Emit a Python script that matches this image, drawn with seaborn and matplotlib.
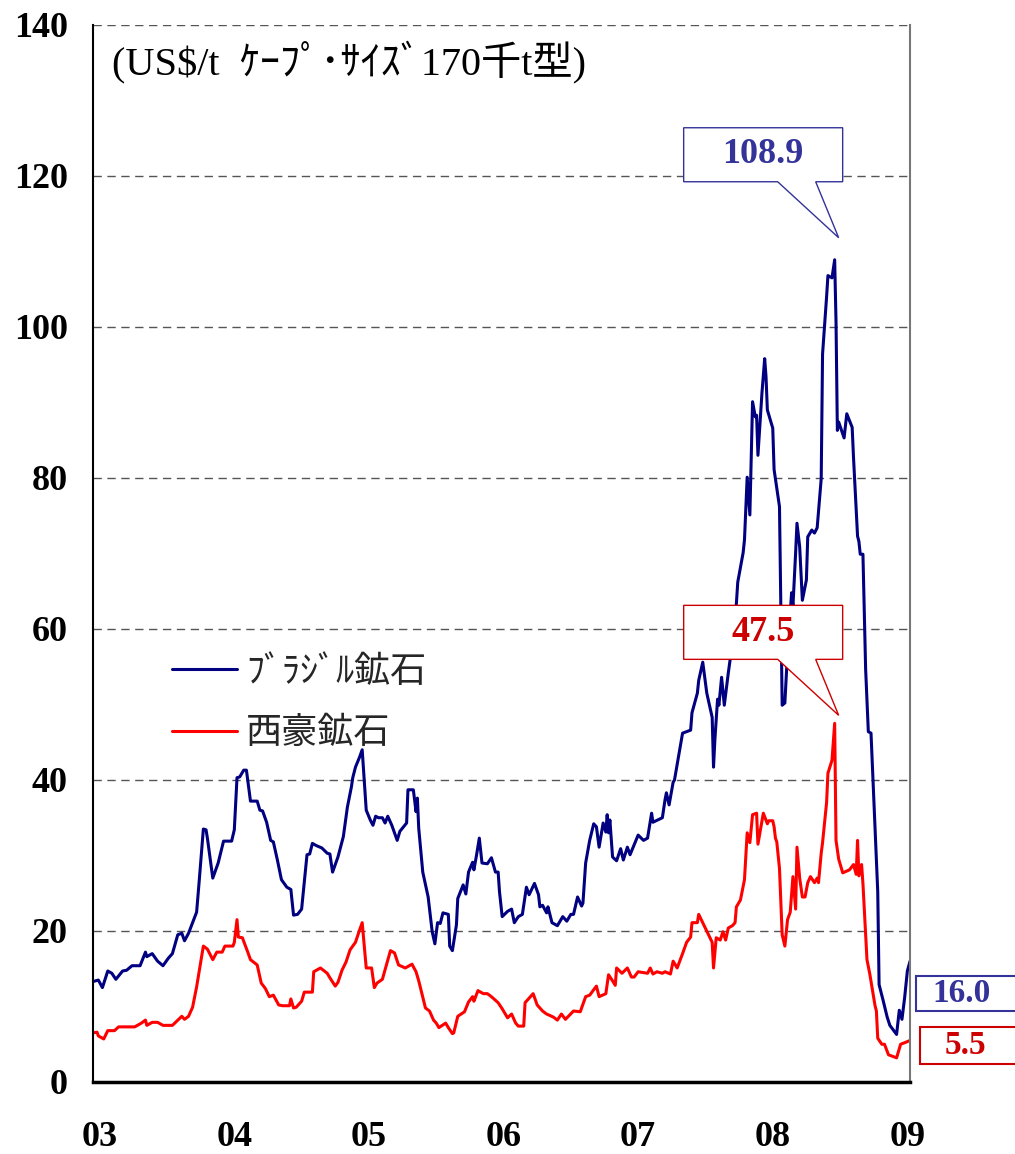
import pandas as pd
import seaborn as sns
import matplotlib.pyplot as plt
from matplotlib.patches import Polygon, Rectangle
from matplotlib.transforms import ScaledTranslation

# weekly freight rates, Cape size 170k t (US$/t), time as decimal year
BRAZIL_T = [
    2002.95, 2002.99, 2003.02, 2003.06, 2003.09, 2003.12, 2003.17, 2003.20, 2003.24, 2003.30,
    2003.34, 2003.35, 2003.39, 2003.43, 2003.47, 2003.51, 2003.54, 2003.58, 2003.61, 2003.63,
    2003.66, 2003.69, 2003.72, 2003.74, 2003.77, 2003.79, 2003.80, 2003.84, 2003.88, 2003.92,
    2003.98, 2004.00, 2004.02, 2004.04, 2004.07, 2004.09, 2004.12, 2004.17, 2004.19, 2004.21,
    2004.24, 2004.27, 2004.29, 2004.32, 2004.35, 2004.39, 2004.42, 2004.44, 2004.47, 2004.50,
    2004.54, 2004.56, 2004.58, 2004.61, 2004.65, 2004.69, 2004.71, 2004.73, 2004.77, 2004.81,
    2004.84, 2004.87, 2004.88, 2004.90, 2004.93, 2004.95, 2004.98, 2005.01, 2005.03, 2005.05,
    2005.07, 2005.10, 2005.12, 2005.14, 2005.17, 2005.21, 2005.23, 2005.28, 2005.29, 2005.33,
    2005.35, 2005.36, 2005.37, 2005.40, 2005.44, 2005.47, 2005.49, 2005.51, 2005.53, 2005.55,
    2005.59, 2005.60, 2005.62, 2005.65, 2005.66, 2005.70, 2005.72, 2005.74, 2005.77, 2005.78,
    2005.80, 2005.82, 2005.84, 2005.88, 2005.91, 2005.94, 2005.96, 2005.97, 2005.99, 2006.03,
    2006.06, 2006.08, 2006.11, 2006.14, 2006.17, 2006.19, 2006.23, 2006.26, 2006.27, 2006.29,
    2006.32, 2006.33, 2006.36, 2006.40, 2006.44, 2006.47, 2006.50, 2006.52, 2006.55, 2006.58,
    2006.59, 2006.61, 2006.64, 2006.67, 2006.69, 2006.71, 2006.74, 2006.76, 2006.77, 2006.78,
    2006.79, 2006.81, 2006.84, 2006.87, 2006.89, 2006.92, 2006.94, 2007.00, 2007.04, 2007.07,
    2007.10, 2007.11, 2007.18, 2007.20, 2007.21, 2007.23, 2007.26, 2007.27, 2007.33, 2007.39,
    2007.40, 2007.44, 2007.45, 2007.48, 2007.51, 2007.55, 2007.56, 2007.57, 2007.59, 2007.60,
    2007.62, 2007.64, 2007.67, 2007.69, 2007.73, 2007.74, 2007.78, 2007.79, 2007.81, 2007.83,
    2007.85, 2007.87, 2007.88, 2007.89, 2007.92, 2007.94, 2007.95, 2007.96, 2008.00, 2008.01,
    2008.05, 2008.06, 2008.07, 2008.09, 2008.11, 2008.14, 2008.15, 2008.17, 2008.18, 2008.20,
    2008.22, 2008.25, 2008.26, 2008.29, 2008.31, 2008.33, 2008.36, 2008.37, 2008.40, 2008.41,
    2008.44, 2008.46, 2008.47, 2008.48, 2008.49, 2008.53, 2008.55, 2008.59, 2008.60, 2008.63,
    2008.64, 2008.65, 2008.67, 2008.69, 2008.71, 2008.73, 2008.78, 2008.79, 2008.82, 2008.85,
    2008.87, 2008.92, 2008.94, 2008.96, 2008.98, 2009.00, 2009.02,
]
BRAZIL_V = [
    13.3, 13.5, 12.5, 14.7, 14.4, 13.6, 14.7, 14.8, 15.4, 15.4,
    17.2, 16.6, 17.0, 16.0, 15.4, 16.4, 17.0, 19.5, 19.7, 18.7,
    19.7, 21.1, 22.5, 26.8, 33.5, 33.4, 32.3, 27.0, 29.0, 31.9,
    31.9, 33.4, 40.3, 40.4, 41.3, 41.3, 37.2, 37.2, 36.0, 35.9,
    34.4, 32.0, 31.8, 29.4, 26.8, 25.8, 25.5, 22.1, 22.2, 22.9,
    30.1, 30.2, 31.6, 31.3, 31.0, 30.3, 30.2, 27.8, 29.8, 32.5,
    36.4, 39.1, 40.3, 41.7, 43.0, 44.0, 36.0, 34.7, 34.0, 35.2,
    35.0, 35.0, 34.3, 35.2, 34.0, 32.0, 33.2, 34.3, 38.7, 38.7,
    35.8, 37.6, 33.6, 27.8, 24.5, 19.9, 18.3, 21.1, 21.0, 22.4,
    22.2, 18.0, 17.4, 20.8, 24.3, 26.1, 24.9, 27.8, 29.1, 28.1,
    30.1, 32.3, 29.0, 28.9, 29.7, 27.8, 27.8, 25.2, 21.9, 22.6,
    22.9, 21.1, 21.9, 22.2, 25.8, 24.8, 26.3, 24.8, 23.2, 23.4,
    22.4, 23.2, 21.1, 20.7, 21.9, 21.3, 22.2, 22.2, 24.5, 23.3,
    23.7, 29.0, 32.0, 34.2, 33.8, 31.1, 34.3, 33.1, 35.4, 33.0,
    34.7, 29.8, 29.3, 30.9, 29.4, 31.1, 30.1, 32.7, 32.0, 32.3,
    35.6, 34.4, 35.0, 37.4, 38.3, 36.7, 39.7, 40.0, 46.2, 46.6,
    48.9, 51.5, 53.2, 55.6, 51.5, 48.3, 41.7, 45.3, 50.7, 49.9,
    53.6, 49.9, 54.2, 56.8, 63.4, 66.2, 70.1, 71.8, 80.1, 75.1,
    90.1, 88.1, 88.3, 83.0, 91.3, 95.8, 93.4, 89.0, 86.6, 81.1,
    76.2, 63.2, 49.9, 50.2, 57.0, 64.8, 63.0, 70.1, 74.0, 70.9,
    63.8, 66.5, 72.2, 73.1, 72.7, 73.4, 79.9, 96.4, 104.0, 106.8,
    106.5, 108.9, 100.7, 86.3, 87.4, 85.3, 88.5, 86.7, 82.7, 72.3,
    71.6, 69.9, 69.9, 54.7, 46.4, 46.2, 25.2, 12.9, 10.8, 8.6,
    7.5, 6.3, 9.5, 8.3, 11.2, 14.7, 16.0,
]

AUS_T = [
    2002.95, 2002.98, 2002.99, 2003.03, 2003.06, 2003.11, 2003.14, 2003.26, 2003.31, 2003.34,
    2003.35, 2003.39, 2003.43, 2003.47, 2003.54, 2003.61, 2003.63, 2003.66, 2003.69, 2003.72,
    2003.77, 2003.80, 2003.84, 2003.87, 2003.91, 2003.93, 2003.99, 2004.00, 2004.02, 2004.03,
    2004.06, 2004.10, 2004.12, 2004.17, 2004.20, 2004.23, 2004.26, 2004.29, 2004.33, 2004.36,
    2004.41, 2004.42, 2004.44, 2004.46, 2004.50, 2004.52, 2004.58, 2004.59, 2004.64, 2004.69,
    2004.71, 2004.75, 2004.77, 2004.80, 2004.83, 2004.86, 2004.90, 2004.93, 2004.95, 2004.98,
    2005.02, 2005.04, 2005.06, 2005.10, 2005.16, 2005.19, 2005.22, 2005.27, 2005.32, 2005.35,
    2005.37, 2005.42, 2005.45, 2005.48, 2005.50, 2005.52, 2005.57, 2005.59, 2005.62, 2005.63,
    2005.66, 2005.71, 2005.74, 2005.77, 2005.78, 2005.81, 2005.85, 2005.88, 2005.91, 2005.96,
    2005.99, 2006.03, 2006.06, 2006.09, 2006.11, 2006.15, 2006.16, 2006.22, 2006.25, 2006.29,
    2006.32, 2006.37, 2006.40, 2006.43, 2006.46, 2006.52, 2006.57, 2006.61, 2006.64, 2006.69,
    2006.71, 2006.76, 2006.78, 2006.81, 2006.83, 2006.84, 2006.88, 2006.92, 2006.95, 2006.97,
    2007.00, 2007.07, 2007.09, 2007.11, 2007.14, 2007.18, 2007.20, 2007.24, 2007.26, 2007.29,
    2007.33, 2007.36, 2007.39, 2007.40, 2007.44, 2007.45, 2007.55, 2007.56, 2007.58, 2007.61,
    2007.63, 2007.65, 2007.67, 2007.70, 2007.72, 2007.73, 2007.76, 2007.79, 2007.81, 2007.83,
    2007.85, 2007.88, 2007.89, 2007.93, 2007.96, 2007.97, 2008.00, 2008.01, 2008.02, 2008.03,
    2008.05, 2008.07, 2008.09, 2008.11, 2008.13, 2008.15, 2008.17, 2008.18, 2008.20, 2008.22,
    2008.24, 2008.26, 2008.28, 2008.31, 2008.33, 2008.34, 2008.36, 2008.37, 2008.40, 2008.41,
    2008.44, 2008.46, 2008.47, 2008.49, 2008.52, 2008.57, 2008.60, 2008.62, 2008.63, 2008.64,
    2008.66, 2008.67, 2008.70, 2008.72, 2008.76, 2008.77, 2008.78, 2008.81, 2008.83, 2008.86,
    2008.92, 2008.95, 2008.98, 2009.02,
]
AUS_V = [
    6.5, 6.6, 6.1, 5.7, 6.8, 6.8, 7.3, 7.3, 7.8, 8.2,
    7.5, 7.9, 7.9, 7.5, 7.5, 8.7, 8.3, 8.7, 9.9, 12.6,
    18.0, 17.6, 16.2, 17.2, 17.2, 18.0, 18.0, 18.5, 21.5, 19.2,
    19.1, 17.2, 16.2, 15.5, 13.1, 12.4, 11.3, 11.5, 10.2, 10.1,
    10.1, 11.0, 9.8, 9.9, 10.7, 11.9, 11.9, 14.6, 15.1, 14.4,
    13.8, 12.7, 13.2, 14.8, 15.9, 17.5, 18.5, 20.1, 21.1, 15.1,
    15.1, 12.5, 13.1, 13.6, 17.4, 17.1, 15.5, 15.1, 15.6, 14.6,
    13.4, 9.8, 9.4, 8.2, 7.8, 7.2, 7.8, 7.2, 6.4, 6.5,
    8.7, 9.3, 10.6, 11.3, 10.7, 12.1, 11.7, 11.7, 11.3, 10.5,
    9.7, 8.5, 9.0, 7.8, 7.4, 7.4, 10.5, 11.7, 10.2, 9.4,
    9.0, 8.6, 8.2, 9.0, 8.3, 9.4, 9.3, 11.3, 11.5, 12.7,
    11.3, 11.7, 14.2, 13.4, 12.8, 15.1, 14.4, 15.1, 13.9, 13.9,
    14.6, 14.4, 15.1, 14.3, 14.6, 14.4, 14.6, 14.3, 16.0, 15.1,
    17.0, 18.5, 19.2, 21.1, 21.1, 22.2, 18.5, 15.1, 19.1, 18.8,
    19.9, 18.8, 20.4, 20.7, 21.1, 23.2, 24.1, 26.8, 33.0, 31.7,
    35.4, 35.6, 31.5, 35.6, 34.2, 34.6, 34.6, 33.8, 32.3, 31.8,
    28.3, 19.5, 18.0, 21.5, 22.5, 27.2, 22.9, 31.1, 27.0, 24.5,
    24.5, 26.4, 27.2, 26.4, 27.0, 26.4, 30.3, 31.7, 37.0, 40.9,
    42.6, 47.5, 32.0, 29.5, 27.7, 28.1, 28.8, 27.5, 32.0, 27.3,
    28.8, 26.3, 16.2, 14.4, 10.1, 9.4, 5.8, 5.0, 5.0, 3.6,
    3.2, 5.0, 5.2, 5.5,
]

SERIES = ["ﾌﾞﾗｼﾞﾙ鉱石", "西豪鉱石"]
PALETTE = ["#000080", "#ff0000"]
LABEL_COLORS = ["#333399", "#cc0000"]
UNIT_TEXT = "(US$/t  ｹｰﾌﾟ･ｻｲｽﾞ170千t型)"
YEAR_TICKS = [2003, 2004, 2005, 2006, 2007, 2008, 2009]
YEAR_LABELS = ["03", "04", "05", "06", "07", "08", "09"]
Y_TICKS = [0, 20, 40, 60, 80, 100, 120, 140]

SERIF = ["Liberation Serif", "DejaVu Serif"]
MIXED = ["Liberation Serif", "Noto Sans CJK JP", "DejaVu Sans"]
CJK = ["Noto Sans CJK JP", "DejaVu Sans"]
DPI = 100


def pixel_trans(ax, x, y):
    """Transform for shapes given in pixels relative to the data point (x, y)."""
    return ax.figure.dpi_scale_trans + ScaledTranslation(x, y, ax.transData)


def callout(ax, x, y, text, color, tip_dx, tip_dy):
    """Speech-bubble box whose pointer ends just off (x, y)."""
    trans = pixel_trans(ax, x, y)
    px = lambda a, b: ((tip_dx + a) / DPI, (tip_dy + b) / DPI)
    verts = [px(0, 0), px(-23, 56), px(4, 56), px(4, 110), px(-155, 110),
             px(-155, 56), px(-61, 56)]
    ax.add_patch(Polygon(verts, closed=True, transform=trans, facecolor="white",
                         edgecolor=color, lw=1.0, zorder=5, clip_on=False))
    cx, cy = px(-75.5, 83)
    ax.text(cx, cy, text, transform=trans, ha="center", va="center", color=color,
            fontsize=26, fontweight="bold", family=SERIF, zorder=6)


def end_label(ax, x, y, text, color, left, bottom, top):
    """Boxed latest value right of the plot, running off the figure edge."""
    trans = pixel_trans(ax, x, y)
    ax.add_patch(Rectangle((left / DPI, bottom / DPI), 120 / DPI, (top - bottom) / DPI,
                           transform=trans, facecolor="white", edgecolor=color,
                           lw=1.5, zorder=5, clip_on=False))
    ax.text((left + 45) / DPI, (bottom + top) / 2 / DPI, text, transform=trans,
            ha="center", va="center", color=color, fontsize=24, fontweight="bold",
            family=SERIF, zorder=6, clip_on=False)


def main():
    df = pd.concat([
        pd.DataFrame({"t": BRAZIL_T, "price": BRAZIL_V, "series": SERIES[0]}),
        pd.DataFrame({"t": AUS_T, "price": AUS_V, "series": SERIES[1]}),
    ], ignore_index=True)

    sns.set_theme(style="white")
    plt.rcParams["font.family"] = MIXED

    fig = plt.figure(figsize=(10.15, 11.54), dpi=DPI)
    ax = fig.add_axes([0.0916, 0.0624, 0.805, 0.916])

    sns.lineplot(data=df, x="t", y="price", hue="series", hue_order=SERIES,
                 palette=PALETTE, estimator=None, sort=False, lw=2.2, ax=ax)

    ax.set_xlim(2002.95, 2009.02)
    ax.set_ylim(0, 140)
    ax.set_xticks(YEAR_TICKS)
    ax.set_xticklabels(YEAR_LABELS)
    ax.set_yticks(Y_TICKS)
    ax.set_xlabel("")
    ax.set_ylabel("")
    for lab in ax.get_xticklabels() + ax.get_yticklabels():
        lab.set_family(SERIF)
        lab.set_fontweight("bold")
        lab.set_fontsize(26)
        lab.set_color("black")
    ax.tick_params(axis="x", length=0, pad=28)
    ax.tick_params(axis="y", length=0, pad=18)

    ax.yaxis.grid(True, linestyle=(0, (6, 4)), color="#555555", lw=1.0)
    ax.xaxis.grid(False)
    ax.spines["top"].set_visible(False)
    ax.spines["left"].set_color("black")
    ax.spines["left"].set_linewidth(1.5)
    ax.spines["bottom"].set_color("black")
    ax.spines["bottom"].set_linewidth(2.5)
    ax.spines["right"].set_color("#777777")
    ax.spines["right"].set_linewidth(1.5)

    ax.text(0.023, 0.965, UNIT_TEXT, transform=ax.transAxes, ha="left", va="center",
            fontsize=29, family=MIXED, color="black")

    leg = ax.legend(loc="upper left", bbox_to_anchor=(0.097, 0.405), frameon=False,
                    handlelength=1.8, handletextpad=0.25, labelspacing=0.7,
                    borderpad=0, borderaxespad=0, prop={"family": CJK, "size": 26})
    for line in leg.get_lines():
        line.set_linewidth(2.2)

    # peak callouts
    i_b = BRAZIL_V.index(max(BRAZIL_V))
    i_a = AUS_V.index(max(AUS_V))
    callout(ax, BRAZIL_T[i_b], BRAZIL_V[i_b], f"{BRAZIL_V[i_b]:.1f}", LABEL_COLORS[0], 4, 22)
    callout(ax, AUS_T[i_a], AUS_V[i_a], f"{AUS_V[i_a]:.1f}", LABEL_COLORS[1], 4, 8)

    # latest values
    end_label(ax, BRAZIL_T[-1], BRAZIL_V[-1], f"{BRAZIL_V[-1]:.1f}", LABEL_COLORS[0], 6, -50, -15)
    end_label(ax, AUS_T[-1], AUS_V[-1], f"{AUS_V[-1]:.1f}", LABEL_COLORS[1], 10, -24, 13)

    fig.savefig("out.png", dpi=DPI)


if __name__ == "__main__":
    main()
